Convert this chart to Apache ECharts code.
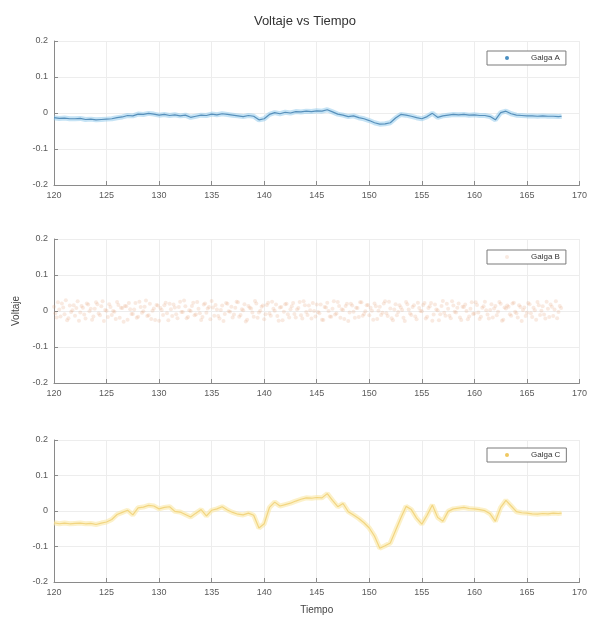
<!DOCTYPE html>
<html>
<head>
<meta charset="utf-8">
<script src="https://cdn.jsdelivr.net/npm/echarts@6/dist/echarts.min.js"></script>
<style>
html,body{margin:0;padding:0;background:#fff;}
#chart{width:590px;height:619px;}
</style>
</head>
<body>
<div id="chart"></div>
<script>
// ---- data ----
const titleText = 'Voltaje vs Tiempo';
const yAxisName = 'Voltaje';
const xAxisName = 'Tiempo';
const seriesNames = ['Galga A', 'Galga B', 'Galga C'];
const xTicks = [120, 125, 130, 135, 140, 145, 150, 155, 160, 165, 170];
const yTicks = [-0.2, -0.1, 0, 0.1, 0.2];

const timeAC = [120,120.5,121,121.5,122,122.5,123,123.5,124,124.5,125,125.5,126,126.5,127,127.5,128,128.5,129,129.5,
130,130.5,131,131.5,132,132.5,133,133.5,134,134.5,135,135.5,136,136.5,137,137.5,138,138.5,139,139.5,
140,140.5,141,141.5,142,142.5,143,143.5,144,144.5,145,145.5,146,146.5,147,147.5,148,148.5,149,149.5,
150,150.5,151,151.5,152,152.5,153,153.5,154,154.5,155,155.5,156,156.5,157,157.5,158,158.5,159,159.5,
160,160.5,161,161.5,162,162.5,163,163.5,164,164.5,165,165.5,166,166.5,167,167.5,168,168.3];

const galgaA = [-0.013,-0.015,-0.014,-0.016,-0.016,-0.015,-0.018,-0.017,-0.019,-0.018,
-0.017,-0.016,-0.013,-0.011,-0.007,-0.008,-0.003,-0.004,-0.001,-0.003,
-0.006,-0.004,-0.007,-0.005,-0.008,-0.006,-0.012,-0.009,-0.006,-0.007,
-0.003,-0.005,-0.002,-0.004,-0.006,-0.008,-0.010,-0.007,-0.009,-0.019,
-0.016,-0.004,0.001,-0.002,0.002,0.000,0.004,0.003,0.005,0.004,
0.006,0.005,0.009,0.003,-0.003,-0.006,-0.010,-0.008,-0.013,-0.016,
-0.021,-0.027,-0.031,-0.030,-0.027,-0.014,-0.004,-0.006,-0.009,-0.013,
-0.016,-0.010,-0.001,-0.012,-0.008,-0.006,-0.004,-0.005,-0.004,-0.006,
-0.005,-0.007,-0.007,-0.010,-0.019,0.001,0.005,-0.002,-0.006,-0.007,
-0.008,-0.008,-0.009,-0.008,-0.009,-0.009,-0.010,-0.009];

const galgaC = [-0.033,-0.036,-0.034,-0.036,-0.035,-0.034,-0.036,-0.035,-0.038,-0.034,
-0.031,-0.024,-0.010,-0.004,0.002,-0.011,0.009,0.011,0.016,0.014,
0.006,0.010,0.012,-0.001,-0.003,-0.010,-0.017,-0.006,0.004,-0.014,
0.002,0.006,0.012,0.003,-0.004,-0.009,-0.011,-0.006,-0.012,-0.048,
-0.036,0.010,0.025,0.014,0.018,0.022,0.028,0.033,0.037,0.036,
0.038,0.037,0.049,0.030,0.012,0.021,-0.002,-0.011,-0.021,-0.033,
-0.048,-0.071,-0.105,-0.098,-0.090,-0.055,-0.020,0.013,0.004,-0.020,
-0.037,-0.012,0.017,-0.018,-0.029,-0.001,0.006,0.008,0.010,0.007,
0.006,0.004,0.001,-0.008,-0.029,0.010,0.030,0.014,-0.002,-0.005,
-0.006,-0.008,-0.009,-0.007,-0.008,-0.006,-0.007,-0.006];

const timeBStart = 120, timeBStep = 0.25, timeBOffset = 0.125;
const galgaB = [0.012,-0.018,0.004,0.021,-0.009,-0.026,0.015,0.002,-0.013,0.027,
-0.004,0.009,-0.021,0.018,0.006,-0.015,0.024,-0.007,0.013,-0.028,
0.001,0.019,-0.011,-0.002,0.025,-0.019,0.008,0.014,-0.024,0.005,
-0.008,0.022,-0.016,0.011,-0.001,0.029,-0.012,-0.022,0.007,0.017,
-0.027,0.003,0.016,-0.006,0.020,-0.014,0.010,-0.020,0.026,-0.003,
0.013,-0.017,0.000,0.023,-0.010,0.006,-0.025,0.018,-0.005,0.011,
0.028,-0.013,0.004,-0.021,0.015,-0.008,0.020,-0.002,-0.018,0.009,
0.024,-0.011,0.002,-0.029,0.014,0.007,-0.016,0.021,-0.004,0.012,
-0.023,0.017,-0.007,0.026,0.001,-0.014,0.010,-0.026,0.019,-0.009,
0.005,0.022,-0.018,0.008,-0.012,0.027,-0.003,0.015,-0.021,0.000,
0.018,-0.006,-0.024,0.011,0.023,-0.015,0.006,-0.010,0.025,-0.019,
0.003,0.014,-0.028,0.020,-0.002,0.009,-0.017,0.024,-0.008,0.016,
-0.012,0.001,0.021,-0.022,0.012,-0.005,0.027,-0.014,0.007,-0.026,
0.019,-0.003,0.010,-0.019,0.025,0.004,-0.011,0.016,-0.023,0.008,
-0.001,0.022,-0.016,0.013,-0.027,0.018,0.002,-0.009,0.028,-0.013,
0.006,-0.020,0.015,-0.004,0.021,-0.025,0.011,0.000,-0.015,0.024,
-0.007,0.017,-0.022,0.009,0.026,-0.010,0.003,-0.018,0.014,-0.002,
0.020,-0.024,0.007,0.012,-0.013,0.023,-0.006,0.016,-0.028,0.010,
-0.005,0.019,-0.017,0.002,0.025,-0.011,0.013,-0.021,0.006,0.018,
-0.014,0.027,-0.003,0.008];
const galgaBMid = [-0.006,0.024,-0.015,0.010,0.030,-0.020,-0.003,0.016,0.008,-0.027,
0.014,-0.010,0.021,-0.001,-0.024,0.006,0.019,-0.012,0.027,0.003,
-0.017,0.011,0.000,-0.022,0.017,0.009,-0.030,0.013,0.022,-0.008,
0.004,-0.019,0.026,-0.005,0.012,-0.014,0.020,0.001,-0.025,0.015,
0.008,-0.011,0.023,-0.026,0.005,0.018,-0.009,0.011,-0.003,0.029,
-0.020,0.002,0.014,-0.012,0.025,-0.006,-0.017,0.021,0.007,-0.023,
0.010,0.017,-0.014,0.003,-0.028,0.022,-0.001,0.012,-0.010,0.026,
-0.016,0.005,0.019,-0.024,0.009,-0.004,0.028,-0.019,0.001,0.015,
-0.009,0.023,-0.013,0.006,0.018,-0.027,0.011,-0.002,0.020,-0.018,
0.013,-0.008,0.004,0.025,-0.021,0.016,-0.011,0.002,0.022,-0.015,
-0.003,0.018,-0.025,0.010,0.000,-0.016,0.027,-0.007,0.014,0.005,
-0.022,0.020,-0.004,0.015,-0.019,0.008,0.024,-0.013,-0.001,0.017,
0.009,-0.024,0.013,0.001,-0.011,0.021,-0.006,0.026,-0.020,0.004,
-0.012,0.016,0.003,-0.028,0.019,-0.007,0.011,-0.015,0.023,0.000,
0.017,-0.021,0.008,0.022,-0.010,0.004,-0.026,0.014,-0.005,0.020,
-0.013,0.027,-0.002,0.009,-0.018,0.012,0.018,-0.023,0.006,-0.008,
0.024,-0.004,-0.016,0.013,0.002,-0.021,0.019,0.007,-0.012,0.025,
-0.027,0.010,0.015,-0.009,0.021,-0.002,-0.018,0.011,0.003,-0.014,
0.022,-0.006,0.009,-0.024,0.016,0.001,-0.010,0.026,-0.017,0.012,
0.004,-0.020,0.014];

// ---- build ----
const pairsA = timeAC.map((t, i) => [t, galgaA[i]]);
const pairsC = timeAC.map((t, i) => [t, galgaC[i]]);
const pairsB = galgaB.map((v, i) => [timeBStart + i * timeBStep, v])
  .concat(galgaBMid.map((v, i) => [timeBStart + timeBOffset + i * timeBStep, v]));

const FONT = 'Liberation Sans, Arial, sans-serif';
const grids = [
  {left: 54, top: 41, width: 527, height: 144},
  {left: 54, top: 239, width: 527, height: 144},
  {left: 54, top: 440, width: 527, height: 142}
];

function xAx(i) {
  return {
    gridIndex: i, type: 'value', min: 120, max: 170, interval: 5,
    axisLine: {show: true, onZero: false, lineStyle: {color: '#8a8a8a', width: 1}},
    axisTick: {show: true, inside: true, length: 4, lineStyle: {color: '#8a8a8a'}},
    axisLabel: {color: '#5a5a5a', fontSize: 9, fontFamily: FONT, margin: 6,
      formatter: v => xTicks.includes(v) ? String(v) : ''},
    splitLine: {show: true, lineStyle: {color: '#ededed', width: 1}},
    name: i === 2 ? xAxisName : '', nameLocation: 'middle', nameGap: 23,
    nameTextStyle: {color: '#444', fontSize: 10, fontFamily: FONT}
  };
}
function yAx(i) {
  return {
    gridIndex: i, type: 'value', min: -0.2, max: 0.2, interval: 0.1,
    axisLine: {show: true, onZero: false, lineStyle: {color: '#8a8a8a', width: 1}},
    axisTick: {show: true, inside: true, length: 4, lineStyle: {color: '#8a8a8a'}},
    axisLabel: {color: '#5a5a5a', fontSize: 9, fontFamily: FONT, margin: 6,
      formatter: v => { const r = Math.round(v * 10) / 10; return yTicks.includes(r) ? String(r) : ''; }},
    splitLine: {show: true, lineStyle: {color: '#ededed', width: 1}},
    name: i === 1 ? yAxisName : '', nameLocation: 'middle', nameGap: 27, nameRotate: 90,
    nameTextStyle: {color: '#444', fontSize: 10, fontFamily: FONT}
  };
}

function legendFor(name, top) {
  return {
    data: [name], left: 487, top: top, orient: 'horizontal',
    borderColor: '#7a7a7a', borderWidth: 1, borderRadius: 0,
    backgroundColor: '#fff',
    padding: [3, 6, 3, 18], itemWidth: 4, itemHeight: 4, icon: 'circle',
    textStyle: {color: '#333', fontSize: 8, fontFamily: FONT, padding: [0, 0, 0, 17]}
  };
}

const option = {
  animation: false,
  backgroundColor: '#fff',
  title: {text: titleText, left: 300, top: 10, textAlign: 'center',
    textStyle: {color: '#333', fontSize: 13, fontWeight: 'normal', fontFamily: FONT}},
  grid: grids,
  xAxis: [xAx(0), xAx(1), xAx(2)],
  yAxis: [yAx(0), yAx(1), yAx(2)],
  legend: [legendFor(seriesNames[0], 51), legendFor(seriesNames[1], 250), legendFor(seriesNames[2], 448)],
  series: [
    {name: seriesNames[0], type: 'line', xAxisIndex: 0, yAxisIndex: 0, data: pairsA,
      showSymbol: false, symbol: 'circle', color: '#4a8fc2',
      lineStyle: {color: 'rgba(140,200,235,0.5)', width: 5}, z: 2},
    {name: seriesNames[0], type: 'line', xAxisIndex: 0, yAxisIndex: 0, data: pairsA,
      showSymbol: false, color: '#4a8fc2',
      lineStyle: {color: '#5790bb', width: 1.2}, z: 3},
    {name: seriesNames[1], type: 'scatter', xAxisIndex: 1, yAxisIndex: 1, data: pairsB,
      symbol: 'circle', symbolSize: 4, color: 'rgba(225,150,110,0.5)',
      itemStyle: {color: 'rgba(228,160,120,0.28)'}},
    {name: seriesNames[2], type: 'line', xAxisIndex: 2, yAxisIndex: 2, data: pairsC,
      showSymbol: false, symbol: 'circle', color: '#efc860',
      lineStyle: {color: 'rgba(250,232,165,0.6)', width: 5}, z: 2},
    {name: seriesNames[2], type: 'line', xAxisIndex: 2, yAxisIndex: 2, data: pairsC,
      showSymbol: false, color: '#efc860',
      lineStyle: {color: '#f2d580', width: 1.2}, z: 3}
  ]
};

const chart = echarts.init(document.getElementById('chart'), null, {renderer: 'canvas'});
chart.setOption(option);
</script>
</body>
</html>
